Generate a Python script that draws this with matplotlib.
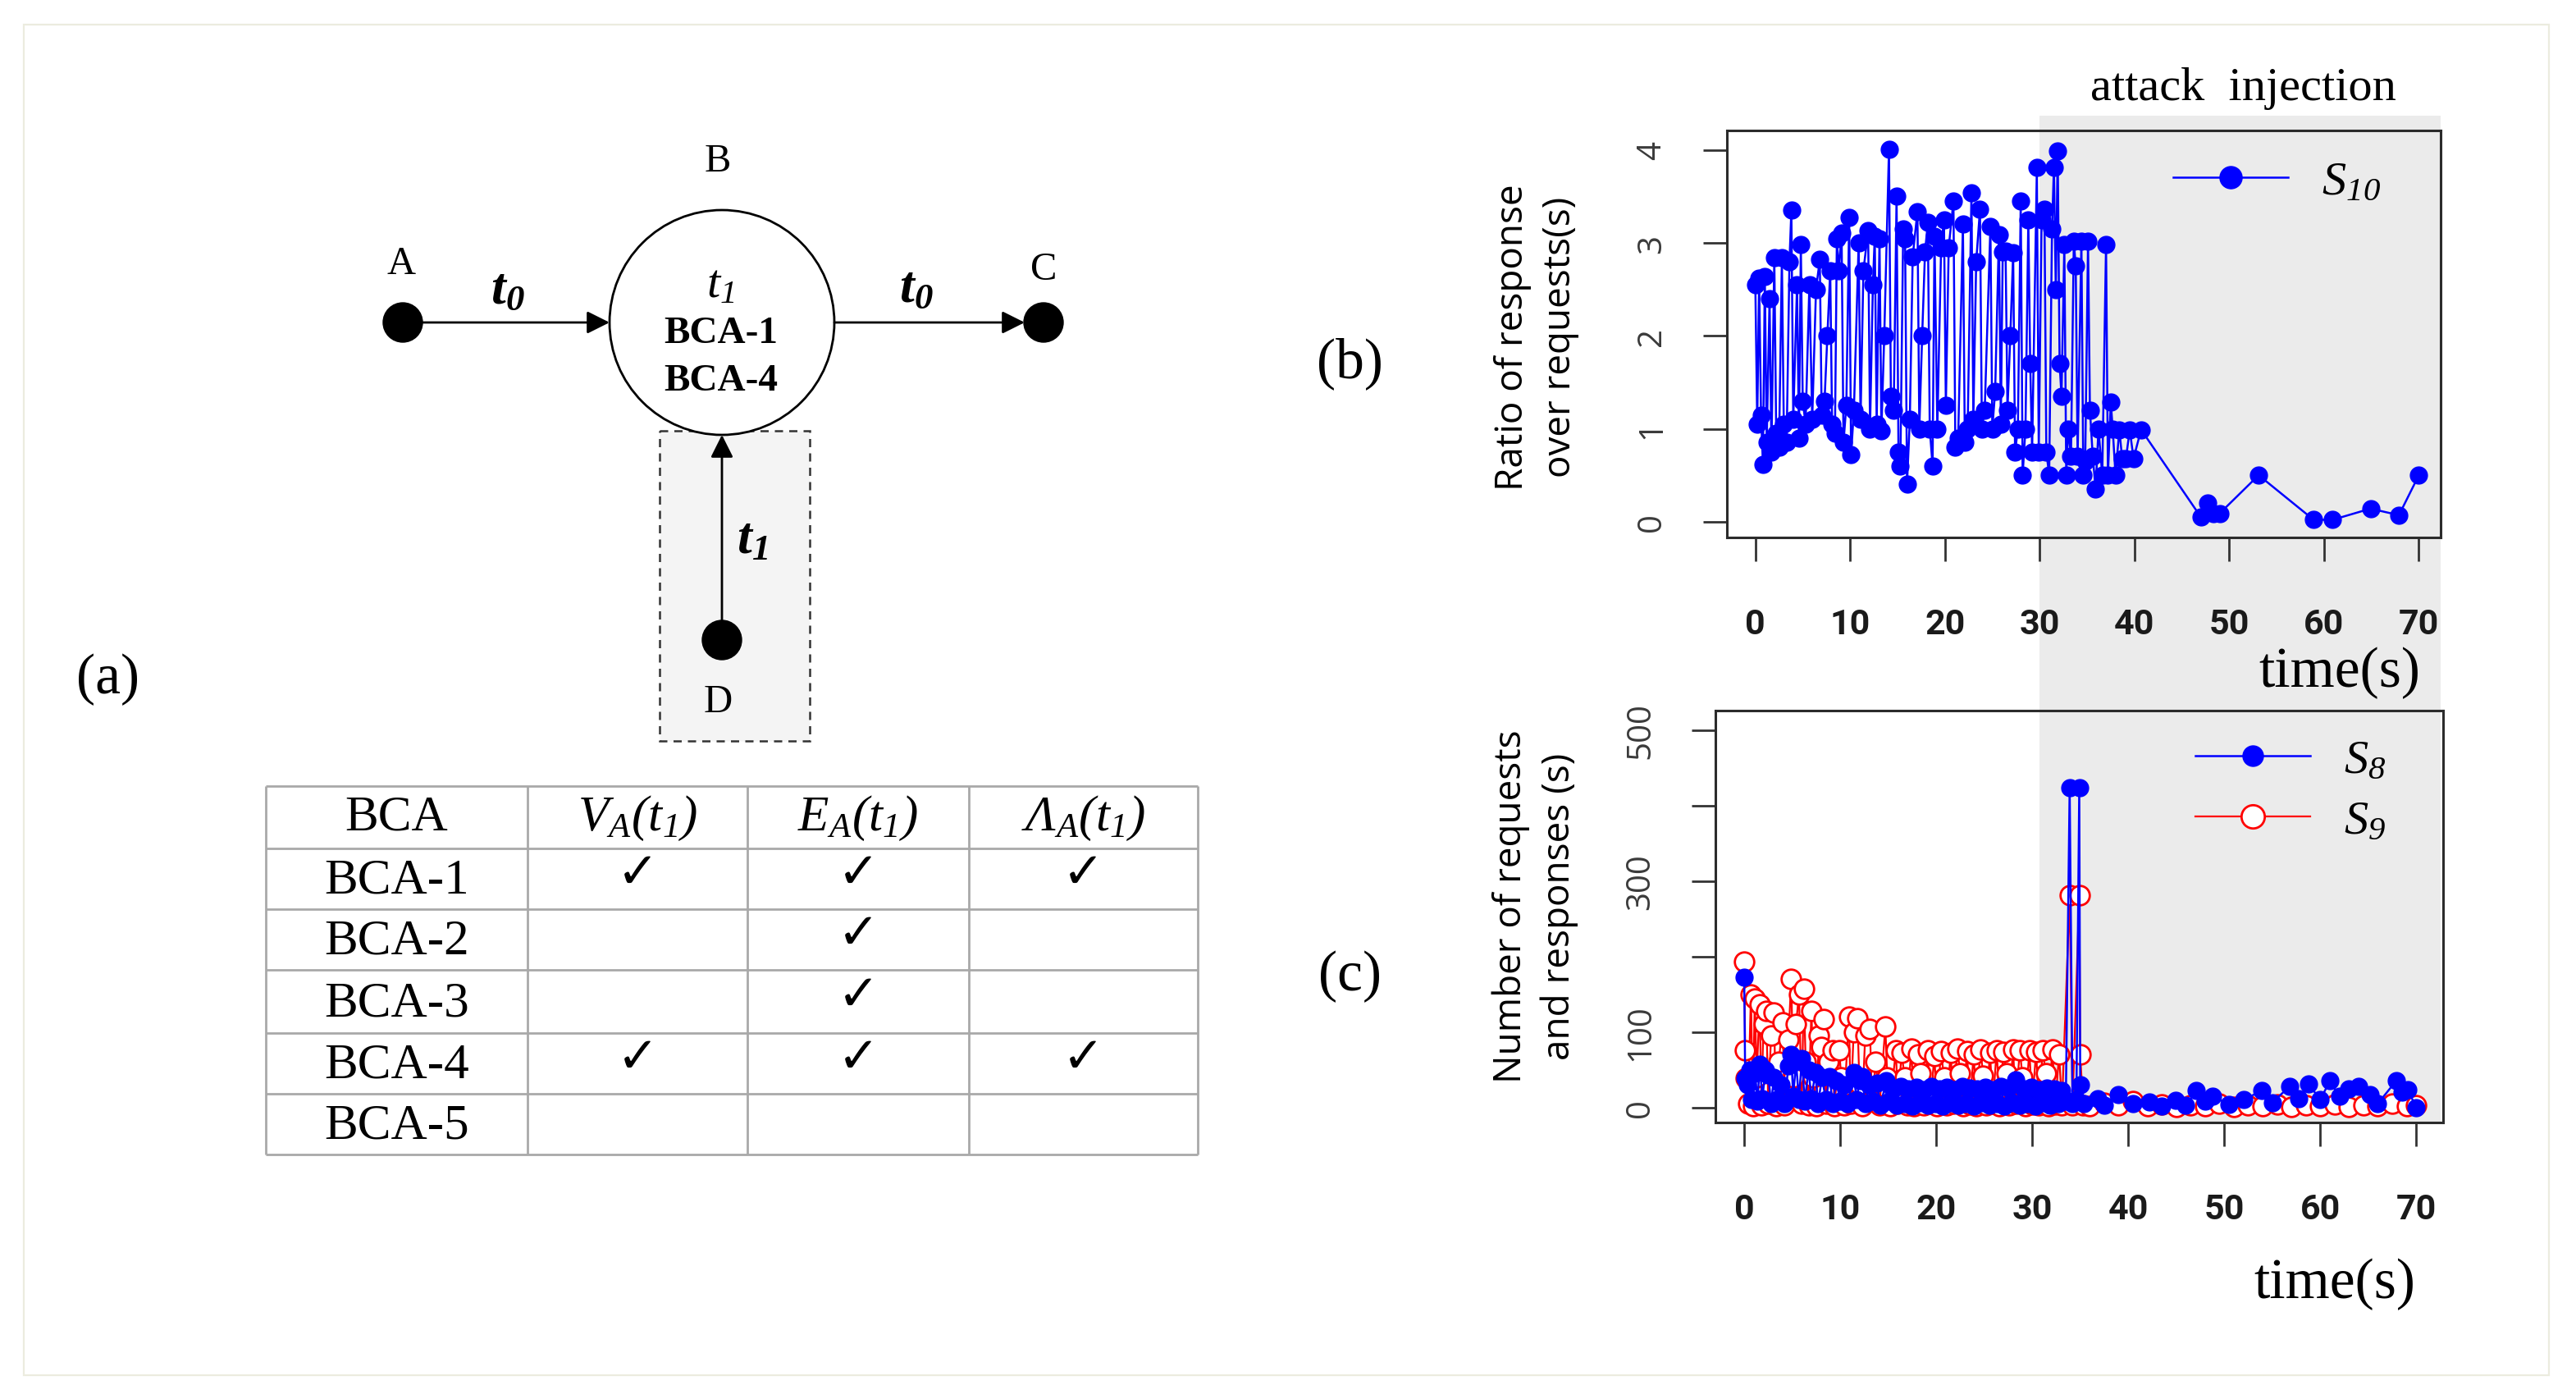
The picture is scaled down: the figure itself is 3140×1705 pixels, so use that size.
import numpy as np
import matplotlib
matplotlib.use("Agg")
import matplotlib.pyplot as plt
from matplotlib.patches import Rectangle, Circle
from matplotlib import transforms

plt.rcParams['mathtext.fontset'] = 'custom'
plt.rcParams['mathtext.rm'] = 'Liberation Serif'
plt.rcParams['mathtext.it'] = 'Liberation Serif:italic'
plt.rcParams['mathtext.sf'] = 'Liberation Serif:italic'   # italic digits too
plt.rcParams['mathtext.bf'] = 'Liberation Serif:bold:italic'

# ---- data ----
# (b) ratio of response over requests, S10
t_b = [0.0, 0.2, 0.4, 0.6, 0.8, 1.0, 1.2, 1.5, 1.7, 2.0, 2.2, 2.5, 2.8, 3.0, 3.3, 3.6, 3.8, 4.0,
       4.4, 4.6, 4.8, 5.0, 5.3, 5.7, 6.0, 6.4, 6.8, 7.0, 7.3, 7.6, 7.9, 8.1, 8.4, 8.6, 8.8, 9.1,
       9.3, 9.6, 9.9, 10.1, 10.4, 10.9, 11.1, 11.4, 11.9, 12.1, 12.4, 12.6, 12.8, 13.1, 13.3, 13.6,
       14.1, 14.3, 14.6, 14.9, 15.1, 15.3, 15.6, 15.8, 16.0, 16.3, 16.6, 17.1, 17.3, 17.6, 17.9,
       18.2, 18.4, 18.7, 18.9, 19.2, 19.6, 19.9, 20.1, 20.4, 20.9, 21.1, 21.4, 21.9, 22.1, 22.4,
       22.8, 23.0, 23.3, 23.7, 23.9, 24.2, 24.8, 25.0, 25.3, 25.7, 25.9, 26.1, 26.4, 26.6, 26.9,
       27.2, 27.4, 27.7, 28.0, 28.2, 28.5, 28.8, 29.0, 29.2, 29.7, 29.9, 30.2, 30.5, 30.7, 31.0,
       31.3, 31.5, 31.7, 31.9, 32.1, 32.3, 32.6, 32.8, 33.0, 33.3, 33.6, 33.8, 34.0, 34.4, 34.6,
       34.8, 35.1, 35.3, 35.6, 35.9, 36.2, 36.6, 37.0, 37.2, 37.5, 37.7, 38.0, 38.4, 38.7, 39.1,
       39.5, 39.9, 40.7, 47.0, 47.7, 48.3, 49.0, 53.1, 58.9, 60.9, 64.9, 67.9, 70.0]
s10 = [2.55, 1.05, 2.62, 1.15, 0.62, 2.64, 0.85, 2.40, 0.75, 2.84, 0.95, 0.80, 2.84, 1.05, 0.85, 2.80, 3.35, 1.10,
       2.55, 0.90, 2.98, 1.30, 1.05, 2.55, 1.10, 2.50, 2.82, 1.15, 1.30, 2.00, 2.70, 1.05, 0.95, 3.04, 2.70, 3.11,
       0.85, 1.25, 3.27, 0.72, 1.20, 3.00, 1.10, 2.70, 3.13, 1.00, 2.55, 3.07, 1.05, 3.04, 0.98, 2.00,
       4.01, 1.35, 1.20, 3.50, 0.75, 0.60, 3.15, 3.04, 0.40, 1.10, 2.85, 3.34, 1.00, 2.00, 2.90,
       3.22, 1.00, 0.60, 3.07, 1.00, 2.95, 3.25, 1.25, 2.95, 3.45, 0.80, 0.90, 3.20, 0.85, 1.00,
       3.54, 1.10, 2.80, 3.36, 1.00, 1.20, 3.18, 1.00, 1.40, 3.09, 1.05, 2.90, 2.91, 1.20, 2.00,
       2.89, 0.75, 1.00, 3.45, 0.50, 1.00, 3.25, 1.70, 0.75, 3.81, 0.75, 3.25, 3.36, 0.75, 0.50,
       3.15, 3.81, 2.50, 3.99, 1.70, 1.35, 2.98, 0.50, 1.00, 0.70, 3.02, 2.75, 0.70, 3.02, 0.50,
       0.65, 3.02, 1.20, 0.70, 0.35, 1.00, 0.50, 2.98, 0.50, 1.29, 1.00, 0.50, 0.99, 0.68, 0.68,
       0.99, 0.68, 0.99, 0.05, 0.20, 0.09, 0.09, 0.50, 0.02, 0.02, 0.14, 0.07, 0.50]

# (c) number of requests (S8) and responses (S9)
t8 = [0.0, 0.1, 0.3, 0.6, 0.8, 1.1, 1.4, 1.6, 1.9, 2.2, 2.5, 2.8, 3.1, 3.4, 3.8, 4.2, 4.6, 4.9,
      5.1, 5.4, 5.7, 6.0, 6.3, 6.7, 7.0, 7.4, 7.7, 8.1, 8.5, 8.9, 9.2, 9.6, 10.0, 10.4, 10.8,
      11.4, 11.7, 12.0, 12.3, 12.6, 13.0, 13.4, 13.8, 14.2, 14.8, 15.1, 15.5, 15.9, 16.3, 16.7,
      17.1, 17.5, 17.9, 18.3, 18.7, 19.1, 19.5, 19.9, 20.3, 20.7, 21.1, 21.5, 21.9, 22.3, 22.7,
      23.1, 23.5, 23.9, 24.3, 24.7, 25.1, 25.5, 25.9, 26.3, 26.7, 27.1, 27.5, 27.9, 28.3, 28.7,
      29.1, 29.5, 29.9, 30.3, 30.7, 31.1, 31.5, 31.9, 32.3, 32.7, 33.1, 33.5, 33.9, 34.2, 34.6,
      34.9, 35.0, 35.4, 36.8, 37.5, 39.0, 40.5, 42.2, 43.5, 44.9, 46.0, 47.1, 48.0, 48.8, 50.5,
      52.0, 53.9, 55.0, 56.8, 57.8, 58.8, 60.0, 61.0, 62.0, 63.0, 64.0, 65.2, 66.0, 67.9, 68.5,
      69.1, 70.0]
s8 = [172, 39, 30, 50, 10, 45, 8, 57, 12, 50, 43, 5, 40, 10, 30, 5, 55, 70,
      15, 60, 10, 65, 8, 50, 12, 46, 5, 40, 10, 41, 5, 35, 8, 30, 5,
      46, 10, 35, 41, 5, 30, 8, 32, 3, 35, 8, 25, 3, 28, 5,
      25, 2, 27, 6, 24, 3, 28, 5, 25, 2, 27, 6, 24, 3, 28,
      5, 26, 2, 25, 6, 27, 3, 24, 5, 28, 2, 26, 6, 37, 3,
      25, 5, 27, 2, 24, 6, 26, 3, 25, 5, 22, 8, 424, 5, 10,
      424, 30, 5, 11, 3, 17, 5, 7, 2, 9, 3, 22, 8, 15, 4,
      10, 22, 6, 28, 12, 31, 10, 35, 15, 25, 28, 17, 5, 35, 20,
      24, 0]
t9 = [0.0, 0.1, 0.2, 0.4, 0.7, 0.9, 1.1, 1.3, 1.6, 1.8, 2.0, 2.3, 2.5, 2.8, 3.1, 3.3, 3.6, 4.0,
      4.2, 4.6, 4.9, 5.1, 5.4, 5.7, 6.0, 6.2, 6.4, 6.7, 7.0, 7.2, 7.5, 7.8, 8.0, 8.3, 8.5, 8.8,
      9.2, 9.4, 9.9, 10.1, 10.4, 10.9, 11.1, 11.4, 11.8, 12.0, 12.3, 12.6, 13.1, 13.3, 13.7, 14.1,
      14.7, 14.9, 15.2, 15.8, 16.0, 16.4, 16.7, 17.0, 17.4, 17.7, 18.1, 18.4, 18.7, 19.1, 19.4,
      19.8, 20.1, 20.5, 20.8, 21.1, 21.5, 21.8, 22.2, 22.5, 22.8, 23.2, 23.5, 23.9, 24.2, 24.6,
      24.9, 25.2, 25.6, 25.9, 26.3, 26.6, 27.0, 27.3, 27.6, 28.0, 28.3, 28.7, 29.0, 29.3, 29.7,
      30.0, 30.4, 30.7, 31.1, 31.4, 31.7, 32.1, 32.4, 32.8, 33.1, 33.9, 34.2, 34.9, 35.0, 35.3,
      36.0, 37.5, 39.0, 40.5, 42.0, 43.5, 45.0, 46.5, 48.0, 49.5, 51.0, 52.5, 54.0, 55.5, 57.0,
      58.5, 60.0, 61.5, 63.0, 64.5, 66.0, 67.5, 69.0, 70.0]
s9 = [193, 76, 39, 5, 150, 2, 144, 40, 137, 3, 110, 128, 5, 95, 126, 2, 60, 113,
      3, 90, 170, 40, 110, 150, 5, 157, 60, 3, 128, 40, 2, 95, 80, 117, 5, 60,
      76, 2, 76, 40, 3, 120, 5, 100, 118, 30, 2, 95, 104, 8, 60, 3,
      107, 40, 2, 76, 5, 72, 40, 3, 78, 2, 70, 45, 3, 76, 5,
      68, 2, 75, 40, 3, 72, 5, 78, 45, 2, 75, 4, 70, 2, 77,
      42, 3, 72, 5, 76, 2, 74, 45, 3, 77, 5, 76, 40, 2, 76,
      4, 74, 3, 76, 45, 2, 77, 4, 70, 3, 281, 3, 281, 70, 3,
      2, 6, 3, 8, 2, 4, 1, 3, 2, 5, 1, 3, 2, 4, 1,
      3, 2, 4, 1, 3, 2, 5, 2, 3]

attack_start = 30
time_ticks = [0, 10, 20, 30, 40, 50, 60, 70]

# table contents
bca_rows = ['BCA-1', 'BCA-2', 'BCA-3', 'BCA-4', 'BCA-5']
table_cols = ['BCA', r'$\mathsf{V_A(t_1)}$', r'$\mathsf{E_A(t_1)}$', r'$\mathsf{\Lambda_A(t_1)}$']
checks = [[1, 1, 1], [0, 1, 0], [0, 1, 0], [1, 1, 1], [0, 0, 0]]

W, H = 3140, 1706
fig = plt.figure(figsize=(W / 100, H / 100), dpi=100)

def box(l, t, r, b):
    return [l / W, 1 - b / H, (r - l) / W, (b - t) / H]

serif = 'Liberation Serif'

# background canvas in pixel coordinates
ax0 = fig.add_axes([0, 0, 1, 1])
ax0.set_xlim(0, W)
ax0.set_ylim(H, 0)
ax0.axis('off')
ax0.set_zorder(-1)
ax0.add_patch(Rectangle((29, 31), 3078, 1646, fill=False, edgecolor='#ececdf', lw=1.6))

# ---- (a) diagram ----
ax0.add_patch(Rectangle((804, 526), 183, 378, facecolor='#f4f4f4', edgecolor='#333333',
                        lw=1.8, ls=(0, (4, 3)), zorder=1))
ax0.add_patch(Circle((880, 394), 137, facecolor='white', edgecolor='black', lw=2, zorder=3))
for cx, cy in [(491, 394), (1272, 394), (880, 781)]:
    ax0.add_patch(Circle((cx, cy), 24, color='black', zorder=4))
arr = dict(arrowstyle='-|>', lw=2, color='black', mutation_scale=42, shrinkA=0, shrinkB=0)
ax0.annotate('', xy=(743, 394), xytext=(505, 394), arrowprops=arr, zorder=4)
ax0.annotate('', xy=(1249, 394), xytext=(1017, 394), arrowprops=arr, zorder=4)
ax0.annotate('', xy=(880, 531), xytext=(880, 770), arrowprops=arr, zorder=4)

for s, x, y in [('A', 489, 322), ('B', 875, 197), ('C', 1272, 329), ('D', 875, 856)]:
    ax0.text(x, y, s, family=serif, fontsize=35, ha='center', va='center')
ax0.text(619, 352, r'$\mathbf{t_0}$', fontsize=46, ha='center', va='center')
ax0.text(1117, 350, r'$\mathbf{t_0}$', fontsize=46, ha='center', va='center')
ax0.text(917, 656, r'$\mathbf{t_1}$', fontsize=46, ha='center', va='center')
ax0.text(878, 346, r'$\mathsf{t_1}$', fontsize=42, ha='center', va='center', zorder=5)
ax0.text(879, 407, 'BCA-1', family=serif, weight='bold', fontsize=34, ha='center', va='center', zorder=5)
ax0.text(879, 465, 'BCA-4', family=serif, weight='bold', fontsize=34, ha='center', va='center', zorder=5)

# table
col_edges = [324, 643, 911, 1181, 1460]
row_edges = [959, 1035, 1109, 1183, 1260, 1334, 1408]
ax0.hlines(row_edges, col_edges[0], col_edges[-1], color='#a9a9a9', lw=2)
ax0.vlines(col_edges, row_edges[0], row_edges[-1], color='#a9a9a9', lw=2)
col_c = [(col_edges[i] + col_edges[i + 1]) / 2 for i in range(4)]
row_c = [(row_edges[i] + row_edges[i + 1]) / 2 for i in range(6)]
for j, lab in enumerate(table_cols):
    ax0.text(col_c[j], row_c[0], lab, family=serif, fontsize=44, ha='center', va='center')
for i, name in enumerate(bca_rows):
    ax0.text(col_c[0], row_c[i + 1] + 2, name, family=serif, fontsize=44, ha='center', va='center')
    for j, c in enumerate(checks[i]):
        if c:
            ax0.text(col_c[j + 1], row_c[i + 1] - 7, '\u2713', family='DejaVu Sans',
                     fontsize=44, ha='center', va='center')

ax0.text(132, 828, '(a)', family=serif, fontsize=50, ha='center', va='center')
ax0.text(1645, 443, '(b)', family=serif, fontsize=50, ha='center', va='center')
ax0.text(1645, 1190, '(c)', family=serif, fontsize=50, ha='center', va='center')


def style_axes(ax, xpad, ypad):
    ax.set_facecolor('none')
    for sp in ax.spines.values():
        sp.set_linewidth(2.2)
        sp.set_color('#2b2b2b')
    ax.tick_params(direction='out', length=21, width=2, color='#333333')
    ax.tick_params(axis='x', pad=xpad, labelsize=31, labelcolor='#1a1a1a')
    ax.tick_params(axis='y', pad=ypad, labelsize=29, labelcolor='#3a3a3a', labelrotation=90)
    ax.set_xticks(time_ticks)
    for lab in ax.get_xticklabels():
        lab.set_family('Roboto')
        lab.set_weight('bold')
    for lab in ax.get_yticklabels():
        lab.set_family('Open Sans')
        lab.set_va('center')


# ---- (b) ----
ax_b = fig.add_axes(box(2105, 160, 2975, 656))
ax_b.plot(t_b, s10, color='blue', lw=1.8, marker='o', ms=15, label=r'$\mathsf{S_{10}}$')
ax_b.set_xlim(-3.0, 72.3)
ax_b.set_ylim(-0.17, 4.21)
ax_b.set_yticks([0, 1, 2, 3, 4])
style_axes(ax_b, 40, 30)
ax_b.legend(loc='upper left', bbox_to_anchor=(0.625, 0.935), frameon=False, fontsize=42,
            handlelength=2.4, handletextpad=0.7, borderpad=0, borderaxespad=0, markerscale=1.3)

# ---- (c) ----
ax_c = fig.add_axes(box(2091, 867, 2978, 1369))
ax_c.plot(t9, s9, color='red', lw=1.6, marker='o', ms=17, mfc='white', mew=2, label=r'$\mathsf{S_9}$')
ax_c.plot(t8, s8, color='blue', lw=1.8, marker='o', ms=15, label=r'$\mathsf{S_8}$')
ax_c.set_xlim(-3.0, 72.8)
ax_c.set_ylim(-20, 526)
ax_c.set_yticks([0, 100, 200, 300, 400, 500])
ax_c.set_yticklabels(['0', '100', '', '300', '', '500'])
style_axes(ax_c, 40, 30)
h, l = ax_c.get_legend_handles_labels()
ax_c.legend(h[::-1], l[::-1], loc='upper left', bbox_to_anchor=(0.66, 0.94), frameon=False,
            fontsize=42, handlelength=2.4, handletextpad=0.7, labelspacing=0.3,
            borderpad=0, borderaxespad=0, markerscale=1.2)

# attack injection shading, spanning both panels
blend = transforms.blended_transform_factory(ax_b.transData, ax0.transData)
ax0.add_patch(Rectangle((attack_start, 142), 72.3 - attack_start, 1369 - 142, transform=blend,
                        facecolor='#ebebeb', edgecolor='none', zorder=0))
ax0.text(2734, 108, 'attack  injection', family=serif, fontsize=42, ha='center', va='center')

# axis labels
ax0.text(2852, 820, 'time(s)', family=serif, fontsize=50, ha='center', va='center')
ax0.text(2846, 1565, 'time(s)', family=serif, fontsize=50, ha='center', va='center')
ax0.text(1873, 411, 'Ratio of response\nover requests(s)', family='Open Sans', fontsize=33,
         rotation=90, ha='center', va='center', multialignment='center', linespacing=1.35)
ax0.text(1871, 1105, 'Number of requests\nand responses (s)', family='Open Sans', fontsize=33,
         rotation=90, ha='center', va='center', multialignment='center', linespacing=1.35)

fig.savefig('out.png', dpi=100)
